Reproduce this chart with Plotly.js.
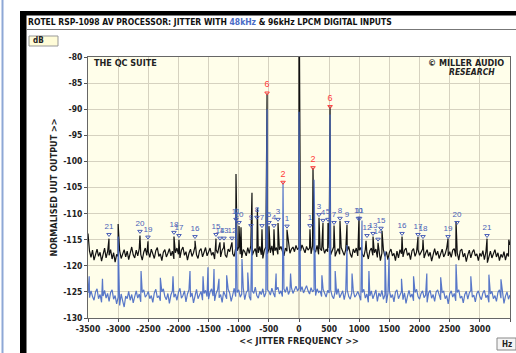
<!DOCTYPE html>
<html><head><meta charset="utf-8">
<script src="https://cdn.plot.ly/plotly-3.0.1.min.js"></script>
<style>html,body{margin:0;padding:0;background:#fff;}#chart{width:516px;height:353px;}</style>
</head><body><div id="chart"></div>
<script>
// ---------- DATA ----------
const freqStart = -3500, freqStep = 25;   // sampling grid of the noise floors (Hz)
// 48kHz input (black) noise floor, dB, one value every 25 Hz from -3500 to +3500
const blackFloor = [
-113.8,-117.2,-118.4,-117.0,-118.9,-117.6,-116.8,-118.2,-117.4,-119.1,-117.9,-116.6,-118.5,-117.3,-118.0,-116.9,-118.7,-117.5,-119.3,-117.8,
-118.2,-117.1,-118.6,-117.7,-116.9,-118.3,-117.2,-118.8,-117.6,-116.4,-117.9,-118.5,-117.0,-118.1,-116.7,-117.8,-118.9,-117.4,-116.6,-118.0,
-117.3,-118.4,-116.8,-117.9,-118.6,-117.1,-116.5,-118.2,-117.7,-119.0,-117.4,-116.9,-118.3,-117.6,-116.7,-118.1,-117.2,-118.7,-117.5,-116.6,
-117.8,-118.5,-117.0,-116.4,-118.0,-117.3,-118.9,-117.6,-116.8,-118.2,-117.5,-116.3,-117.9,-118.6,-117.1,-116.7,-118.3,-117.4,-116.5,-118.1,
-117.2,-116.6,-118.0,-117.4,-118.7,-116.9,-117.6,-116.2,-118.3,-117.0,-116.5,-117.9,-118.4,-116.8,-117.3,-116.1,-117.7,-118.2,-116.6,-117.1,
-116.4,-117.8,-118.5,-116.9,-117.3,-118.1,-116.5,-117.6,-116.2,-118.0,-117.2,-116.7,-118.3,-117.5,-116.3,-117.9,-118.6,-117.0,-116.4,-117.7,
-116.8,-117.5,-116.2,-118.0,-117.1,-116.5,-117.8,-116.9,-116.3,-117.4,-118.1,-116.6,-117.2,-116.0,-117.6,-116.8,-116.4,-117.3,-116.1,-116.9,
-116.5,-117.2,-116.0,-116.8,-117.5,-116.3,-117.0,-116.6,-117.7,-116.2,-116.9,-117.4,-116.1,-117.8,-116.7,-117.1,-116.4,-117.6,-116.8,-117.3,
-116.6,-117.9,-117.0,-116.4,-118.2,-117.3,-116.7,-117.8,-116.5,-117.4,-118.0,-116.9,-117.2,-116.3,-117.7,-118.4,-116.8,-117.5,-116.6,-118.1,
-117.0,-116.5,-117.8,-118.3,-116.9,-117.4,-118.7,-117.1,-116.6,-118.0,-117.5,-116.8,-118.4,-117.2,-119.0,-117.6,-116.9,-118.2,-117.3,-118.8,
-117.4,-116.8,-118.1,-117.6,-119.0,-117.2,-118.5,-116.9,-117.7,-118.3,-117.0,-116.6,-118.0,-117.5,-118.8,-117.1,-116.7,-118.2,-117.4,-116.9,
-118.0,-117.3,-116.8,-118.5,-117.6,-116.9,-118.2,-117.4,-119.1,-117.8,-116.7,-118.0,-117.2,-118.6,-117.5,-116.8,-118.3,-117.7,-116.6,-118.1,
-117.3,-118.4,-117.0,-116.7,-118.2,-117.5,-118.9,-117.1,-116.8,-118.3,-117.6,-119.2,-117.9,-117.0,-118.5,-117.4,-116.9,-118.1,-117.7,-119.0,
-117.6,-118.2,-117.1,-118.8,-117.4,-119.4,-118.0,-117.2,-118.5,-117.7,-116.9,-118.3,-117.5,-119.0,-117.8,-118.4,-117.3,-118.9,-117.6,-118.2,
-116.0];
// 96kHz input (blue) noise floor, dB, same grid
const blueFloor = [
-125.2,-126.1,-124.8,-125.9,-126.6,-125.0,-124.4,-126.3,-125.5,-127.0,-125.8,-124.7,-126.2,-125.3,-126.8,-125.1,-124.6,-126.4,-125.7,-127.3,
-126.0,-127.6,-125.4,-126.7,-127.9,-125.8,-126.3,-124.9,-126.6,-125.5,-127.1,-125.9,-124.8,-126.2,-125.4,-126.9,-125.1,-124.6,-126.0,-125.6,
-124.9,-126.3,-125.7,-127.0,-125.2,-124.5,-126.1,-125.8,-126.7,-125.0,-124.4,-125.9,-126.5,-125.3,-127.2,-125.6,-124.8,-126.0,-125.4,-126.6,
-125.1,-124.3,-126.2,-125.7,-124.8,-126.9,-125.4,-124.6,-126.0,-125.2,-127.1,-125.8,-124.5,-126.3,-125.6,-124.9,-126.6,-125.3,-124.7,-125.9,
-126.4,-125.0,-124.4,-125.8,-126.7,-125.3,-124.6,-126.1,-125.5,-127.0,-124.9,-125.7,-126.3,-124.5,-125.2,-126.8,-125.6,-124.3,-125.9,-125.1,
-124.6,-126.0,-125.4,-124.2,-126.5,-125.1,-124.7,-125.9,-126.6,-124.8,-125.3,-124.1,-125.7,-126.2,-124.9,-125.5,-124.4,-126.0,-125.2,-124.6,
-124.9,-125.6,-124.3,-125.2,-126.0,-124.6,-124.1,-125.4,-124.8,-125.9,-124.4,-125.1,-124.0,-125.5,-124.7,-124.2,-125.3,-124.6,-123.9,-124.8,
-124.3,-124.9,-124.0,-125.2,-124.5,-123.8,-124.8,-125.4,-124.2,-125.0,-124.6,-125.7,-124.4,-125.1,-124.8,-125.9,-124.5,-125.3,-126.0,-124.7,
-125.2,-124.6,-125.8,-126.3,-124.9,-125.5,-124.4,-126.1,-125.3,-124.8,-126.5,-125.0,-124.6,-125.9,-126.4,-125.2,-124.7,-126.0,-125.6,-124.9,
-125.7,-126.6,-125.1,-124.5,-126.2,-125.4,-127.0,-125.8,-124.8,-126.3,-125.5,-124.6,-126.8,-125.2,-125.9,-124.7,-126.4,-125.6,-127.1,-125.3,
-124.8,-126.1,-125.5,-126.9,-125.0,-124.6,-126.3,-125.7,-124.9,-126.5,-125.2,-127.2,-125.8,-124.7,-126.0,-125.4,-126.7,-125.1,-124.5,-125.9,
-126.4,-125.3,-124.8,-126.1,-125.6,-127.0,-125.2,-124.7,-126.2,-125.5,-126.8,-125.0,-124.6,-125.8,-126.5,-125.1,-124.9,-126.3,-125.7,-127.3,
-125.4,-124.8,-126.0,-125.3,-126.7,-125.1,-124.6,-126.2,-125.8,-127.1,-125.5,-124.9,-126.4,-125.2,-124.7,-126.0,-125.6,-126.9,-125.3,-124.8,
-125.9,-126.5,-125.2,-124.7,-126.1,-125.6,-127.0,-125.4,-124.9,-126.3,-125.7,-126.8,-125.1,-124.6,-126.2,-125.5,-127.2,-125.8,-125.0,-126.4,
-125.6];
// discrete jitter spikes (Hz, dB)
const blackSpikeFreq  = [-3152,-3000,-2638,-2505,-2074,-1991,-1725,-1377,-1311,-1244,-1112,-1045,-995,-962,-780,-690,-614,-530,-498,-415,-348,-199,0,182,232,332,398,481,515,581,680,796,995,1112,1228,1311,1377,1709,1974,2057,2472,2605,3119,3480];
const blackSpikeLevel = [-114.8,-112.0,-114.2,-115.3,-114.4,-115.0,-115.2,-114.8,-115.5,-115.5,-115.5,-102.4,-112.4,-112.6,-106.0,-109.0,-113.0,-87.0,-112.4,-113.0,-111.8,-113.1,-60.0,-113.0,-101.2,-110.8,-111.8,-111.8,-89.5,-112.3,-111.4,-112.2,-110.6,-115.2,-114.4,-115.6,-113.3,-114.4,-114.5,-115.0,-114.8,-111.5,-114.8,-115.0];
const blueSpikeFreq  = [-3480,-3260,-3000,-2620,-2300,-2090,-1808,-1592,-1510,-1410,-1327,-1200,-1045,-946,-850,-780,-530,-380,-265,-140,0,250,380,515,600,796,880,1045,1160,1427,1493,1700,1900,2120,2350,2605,2850,3150,3350];
const blueSpikeLevel = [-122.0,-122.5,-114.4,-121.0,-122.3,-122.0,-121.0,-122.0,-120.3,-120.6,-122.5,-121.8,-109.0,-118.7,-121.3,-112.4,-90.0,-121.5,-104.0,-121.5,-90.5,-103.5,-121.8,-91.0,-121.0,-116.0,-121.5,-111.3,-121.0,-117.2,-118.4,-122.5,-122.0,-121.5,-122.2,-119.7,-122.0,-121.7,-122.6];
// numbered sideband markers
const harmonicText  = ['21','20','19','18','17','16','15','14','13','12','11','10','9','8','7','5','4','3','1','1','3','4','5','7','8','9','10','11','12','13','14','15','16','17','18','19','20','21'];
const harmonicFreq  = [-3152,-2638,-2505,-2074,-1991,-1725,-1377,-1311,-1244,-1112,-1045,-995,-796,-697,-614,-498,-415,-348,-199,182,332,398,481,581,680,796,985,1005,1128,1228,1311,1360,1709,1974,2057,2472,2621,3119];
const harmonicLevel = [-114.0,-113.4,-114.5,-113.6,-114.2,-114.4,-114.0,-114.7,-114.7,-114.7,-111.1,-111.7,-112.3,-110.7,-112.3,-111.7,-112.3,-111.1,-112.4,-112.3,-110.2,-111.3,-111.1,-111.7,-110.9,-111.7,-110.9,-110.9,-114.2,-113.8,-114.9,-112.8,-113.8,-114.0,-114.4,-114.4,-111.7,-114.2];
const redText  = ['6','2','2','6'];
const redFreq  = [-530,-265,232,515];
const redLevel = [-86.9,-104.0,-101.2,-89.5];
const xTickVals = [-3500,-3000,-2500,-2000,-1500,-1000,-500,0,500,1000,1500,2000,2500,3000,3500];
const yTickVals = [-130,-125,-120,-115,-110,-105,-100,-95,-90,-85,-80];

// ---------- BUILD ----------
function mergeSeries(floor, sf, sl){
  const pts = floor.map((v,i)=>({x: freqStart + i*freqStep, y: v, o: 0}));
  sf.forEach((f,i)=>pts.push({x: f, y: sl[i], o: 1}));
  pts.sort((a,b)=> a.x - b.x || a.o - b.o);
  return {x: pts.map(p=>p.x), y: pts.map(p=>p.y)};
}
const blk = mergeSeries(blackFloor, blackSpikeFreq, blackSpikeLevel);
const blu = mergeSeries(blueFloor, blueSpikeFreq, blueSpikeLevel);

const PL=88, PR=510, PT=57, PB=318;
const X = px => (px-PL)/(PR-PL);
const Y = py => (PB-py)/(PB-PT);
const NARROW = 'Liberation Sans Narrow, DejaVu Sans Condensed, Arial Narrow, sans-serif';

const traces = [
  {type:'scatter', mode:'lines', x: blk.x, y: blk.y, line:{color:'#111111', width:1.2}, hoverinfo:'skip'},
  {type:'scatter', mode:'lines', x: blu.x, y: blu.y, line:{color:'#4a6cc6', width:1.2}, opacity:0.92, hoverinfo:'skip'},
  {type:'scatter', mode:'markers+text', x: harmonicFreq, y: harmonicLevel, text: harmonicText,
   textposition:'top center', textfont:{family:'Liberation Sans, Arial, sans-serif', size:8, color:'#4a5fb8'},
   marker:{symbol:'triangle-down-open', size:4, color:'#4a5fb8', line:{width:1, color:'#4a5fb8'}}, cliponaxis:false, hoverinfo:'skip'},
  {type:'scatter', mode:'markers+text', x: redFreq, y: redLevel, text: redText,
   textposition:'top center', textfont:{family:'Liberation Sans, Arial, sans-serif', size:9, color:'#ff3b3b'},
   marker:{symbol:'triangle-down-open', size:4, color:'#ff3b3b', line:{width:1, color:'#ff3b3b'}}, cliponaxis:false, hoverinfo:'skip'}
];

const layout = {
  width:516, height:353,
  margin:{l:PL, r:516-PR, t:PT, b:353-PB, pad:0},
  paper_bgcolor:'#ffffff', plot_bgcolor:'#fffeea',
  showlegend:false,
  title:{text:'<b>ROTEL RSP-1098 AV PROCESSOR: JITTER WITH <span style="color:#4a6cc6">48kHz</span> &amp; 96kHz LPCM DIGITAL INPUTS</b>',
         x:28/516, xanchor:'left', y:1-22/353, yanchor:'middle', xref:'container', yref:'container',
         font:{family:NARROW, size:8.5, color:'#111'}},
  xaxis:{range:[-3500,3500], tickvals:xTickVals, ticktext:xTickVals.map(String), ticks:'outside', ticklen:3, tickcolor:'#555',
         showgrid:true, gridcolor:'#d6d2c0', gridwidth:1.2, zeroline:false, showline:true, linecolor:'#666', linewidth:1, mirror:true,
         tickfont:{family:NARROW, size:8.5, color:'#222', weight:'bold'},
         title:{text:'<b>&lt;&lt; JITTER FREQUENCY &gt;&gt;</b>', font:{family:NARROW, size:9, color:'#222'}, standoff:4}},
  yaxis:{range:[-130,-80], tickvals:yTickVals, ticktext:yTickVals.map(String), ticks:'outside', ticklen:3, tickcolor:'#555',
         showgrid:true, gridcolor:'#d6d2c0', gridwidth:1.2, zeroline:false, showline:true, linecolor:'#666', linewidth:1, mirror:true,
         tickfont:{family:NARROW, size:8.5, color:'#222', weight:'bold'},
         title:{text:'<b>NORMALISED UUT OUTPUT &gt;&gt;</b>', font:{family:NARROW, size:9, color:'#222'}, standoff:4}},
  shapes:[
    {type:'line', xref:'paper', yref:'paper', x0:X(2.5), x1:X(2.5), y0:Y(0), y1:Y(353), line:{color:'#8ea8d6', width:2}},
    {type:'rect', xref:'paper', yref:'paper', x0:X(20), x1:X(26.5), y0:Y(11), y1:Y(353), fillcolor:'#000', line:{width:0}},
    {type:'rect', xref:'paper', yref:'paper', x0:X(20), x1:X(516), y0:Y(11), y1:Y(15.5), fillcolor:'#000', line:{width:0}},
    {type:'line', xref:'paper', yref:'paper', x0:X(26), x1:X(516), y0:Y(29.5), y1:Y(29.5), line:{color:'#777', width:1}},
    {type:'rect', xref:'paper', yref:'paper', x0:X(29), x1:X(58), y0:Y(36), y1:Y(46), fillcolor:'#fffcd8', line:{color:'#999', width:1}},
    {type:'rect', xref:'paper', yref:'paper', x0:X(497), x1:X(516), y0:Y(338), y1:Y(350), fillcolor:'#f4f4f4', line:{color:'#888', width:1}}
  ],
  annotations:[
    {xref:'paper', yref:'paper', x:X(31), y:Y(41), xanchor:'left', yanchor:'middle', showarrow:false, text:'<b>dB</b>', font:{family:NARROW, size:8, color:'#222'}},
    {xref:'paper', yref:'paper', x:X(92), y:Y(63), xanchor:'left', yanchor:'middle', showarrow:false, text:'<b>THE QC SUITE</b>', font:{family:NARROW, size:9, color:'#222'}},
    {xref:'paper', yref:'paper', x:X(506), y:Y(63), xanchor:'right', yanchor:'middle', showarrow:false, text:'<b>© MILLER AUDIO</b>', font:{family:NARROW, size:9, color:'#222'}},
    {xref:'paper', yref:'paper', x:X(497), y:Y(72), xanchor:'right', yanchor:'middle', showarrow:false, text:'<b><i>RESEARCH</i></b>', font:{family:NARROW, size:8.5, color:'#222'}},
    {xref:'paper', yref:'paper', x:X(506.5), y:Y(344), xanchor:'center', yanchor:'middle', showarrow:false, text:'<b>Hz</b>', font:{family:NARROW, size:8, color:'#222'}}
  ]
};
Plotly.newPlot('chart', traces, layout, {displayModeBar:false, staticPlot:true});
</script></body></html>
